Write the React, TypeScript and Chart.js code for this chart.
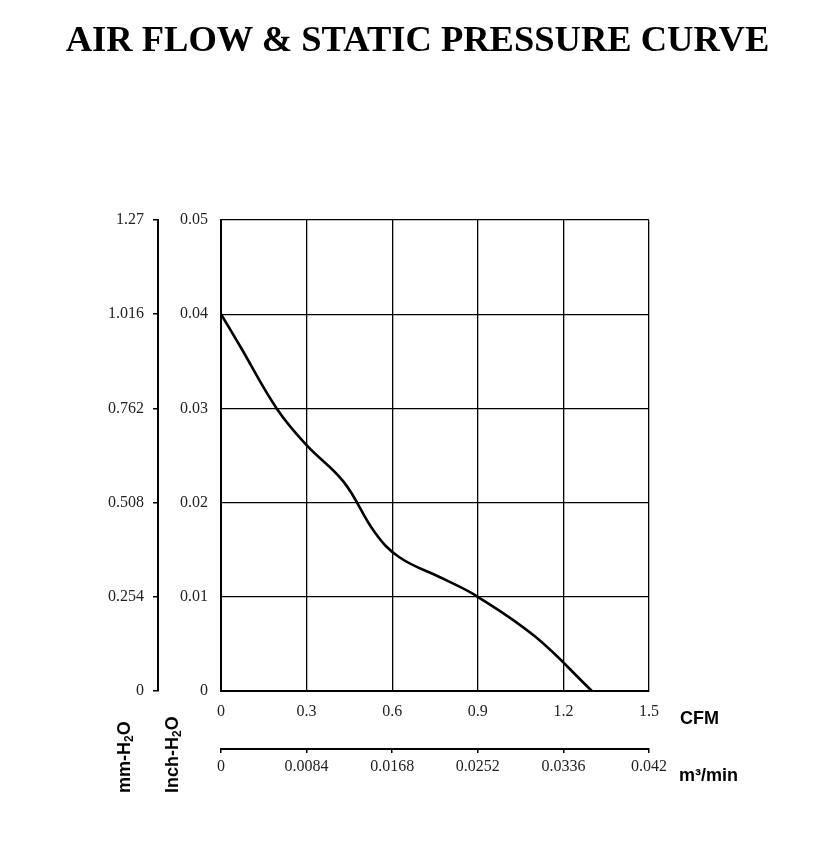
import React, { useEffect, useRef } from "react";
import { Chart, registerables } from "chart.js";

Chart.register(...registerables);

// ---- Data ----
const CFM_VALUES = [0, 0.067, 0.195, 0.3, 0.43, 0.54, 0.625, 0.78, 0.9, 1.1, 1.3];
const PRESSURE_INCH = [0.04, 0.0366, 0.03, 0.0261, 0.0222, 0.0168, 0.0142, 0.0119, 0.01, 0.0058, 0];

const CFM_TICKS = [0, 0.3, 0.6, 0.9, 1.2, 1.5];
const CFM_LABELS = ["0", "0.3", "0.6", "0.9", "1.2", "1.5"];
const M3_TICKS = [0, 0.0084, 0.0168, 0.0252, 0.0336, 0.042];
const M3_LABELS = ["0", "0.0084", "0.0168", "0.0252", "0.0336", "0.042"];
const INCH_TICKS = [0, 0.01, 0.02, 0.03, 0.04, 0.05];
const INCH_LABELS = ["0", "0.01", "0.02", "0.03", "0.04", "0.05"];
const MM_TICKS = [0, 0.254, 0.508, 0.762, 1.016, 1.27];
const MM_LABELS = ["0", "0.254", "0.508", "0.762", "1.016", "1.27"];

const TITLE = "AIR FLOW & STATIC PRESSURE CURVE";

const TICK_FONT = { family: "'Liberation Serif', 'Times New Roman', serif", size: 16 };
const TICK_COLOR = "#222";

export default function App() {
  const canvasRef = useRef<HTMLCanvasElement | null>(null);

  useEffect(() => {
    const canvas = canvasRef.current;
    if (!canvas) return;
    const chart = new Chart(canvas, {
      type: "line",
      data: {
        datasets: [
          {
            data: CFM_VALUES.map((x, i) => ({ x, y: PRESSURE_INCH[i] })),
            borderColor: "#000",
            borderWidth: 2.6,
            pointRadius: 0,
            fill: false,
            tension: 0.4,
            xAxisID: "x",
            yAxisID: "y",
          },
        ],
      },
      options: {
        responsive: false,
        animation: false,
        devicePixelRatio: 1,
        layout: { padding: { left: 58, right: 170, top: 220, bottom: 54 } },
        plugins: { legend: { display: false }, tooltip: { enabled: false }, title: { display: false } },
        scales: {
          x: {
            type: "linear",
            position: "bottom",
            weight: 0,
            min: 0,
            max: 1.5,
            afterBuildTicks: (s: any) => { s.ticks = CFM_TICKS.map((value) => ({ value })); },
            afterFit: (s: any) => { s.height = 58; },
            ticks: {
              callback: (_v: any, i: number) => CFM_LABELS[i],
              font: TICK_FONT,
              color: TICK_COLOR,
              padding: 11,
              maxRotation: 0,
              autoSkip: false,
            },
            grid: { color: "#000", lineWidth: 1.3, drawTicks: false },
            border: { color: "#000", width: 2 },
          },
          x2: {
            type: "linear",
            position: "bottom",
            weight: 1,
            min: 0,
            max: 0.042,
            afterBuildTicks: (s: any) => { s.ticks = M3_TICKS.map((value) => ({ value })); },
            afterFit: (s: any) => { s.height = 40; },
            ticks: {
              callback: (_v: any, i: number) => M3_LABELS[i],
              font: TICK_FONT,
              color: TICK_COLOR,
              padding: 4,
              maxRotation: 0,
              autoSkip: false,
            },
            grid: { color: "#000", lineWidth: 1.5, drawOnChartArea: false, tickLength: 4 },
            border: { color: "#000", width: 2 },
          },
          y: {
            type: "linear",
            position: "left",
            weight: 0,
            min: 0,
            max: 0.05,
            afterBuildTicks: (s: any) => { s.ticks = INCH_TICKS.map((value) => ({ value })); },
            afterFit: (s: any) => { s.width = 63; },
            ticks: {
              callback: (_v: any, i: number) => INCH_LABELS[i],
              font: TICK_FONT,
              color: TICK_COLOR,
              padding: 13,
              autoSkip: false,
            },
            grid: { color: "#000", lineWidth: 1.3, drawTicks: false },
            border: { color: "#000", width: 2 },
          },
          mm: {
            type: "linear",
            position: "left",
            weight: 1,
            min: 0,
            max: 1.27,
            afterBuildTicks: (s: any) => { s.ticks = MM_TICKS.map((value) => ({ value })); },
            afterFit: (s: any) => { s.width = 100; },
            ticks: {
              callback: (_v: any, i: number) => MM_LABELS[i],
              font: TICK_FONT,
              color: TICK_COLOR,
              padding: 9,
              autoSkip: false,
            },
            grid: { color: "#000", lineWidth: 1.5, drawOnChartArea: false, tickLength: 5 },
            border: { color: "#000", width: 2 },
          },
        },
      } as any,
    });
    return () => chart.destroy();
  }, []);

  const sansBold: React.CSSProperties = {
    position: "absolute",
    fontFamily: "'Liberation Sans', Arial, sans-serif",
    fontWeight: "bold",
    fontSize: 18,
    lineHeight: "18px",
    whiteSpace: "nowrap",
    color: "#000",
  };
  const subStyle: React.CSSProperties = { fontSize: 12, lineHeight: 0, verticalAlign: "-3px" };

  return (
    <div style={{ position: "absolute", left: 0, top: 0, width: 819, height: 843, background: "#fff" }}>
      <canvas ref={canvasRef} width={819} height={843} style={{ position: "absolute", left: 0, top: 0 }} />
      <div
        style={{
          position: "absolute",
          left: 8,
          top: 21,
          width: 819,
          textAlign: "center",
          fontFamily: "'Liberation Serif', 'Times New Roman', serif",
          fontWeight: "bold",
          fontSize: 36.5,
          lineHeight: "36.5px",
          whiteSpace: "nowrap",
          color: "#000",
        }}
      >
        {TITLE}
      </div>
      <div style={{ ...sansBold, left: 115, top: 793, transformOrigin: "0 0", transform: "rotate(-90deg)" }}>
        mm-H<sub style={subStyle}>2</sub>O
      </div>
      <div style={{ ...sansBold, left: 163, top: 793, transformOrigin: "0 0", transform: "rotate(-90deg)" }}>
        Inch-H<sub style={subStyle}>2</sub>O
      </div>
      <div style={{ ...sansBold, left: 680, top: 709 }}>CFM</div>
      <div style={{ ...sansBold, left: 679, top: 766 }}>m³/min</div>
    </div>
  );
}
